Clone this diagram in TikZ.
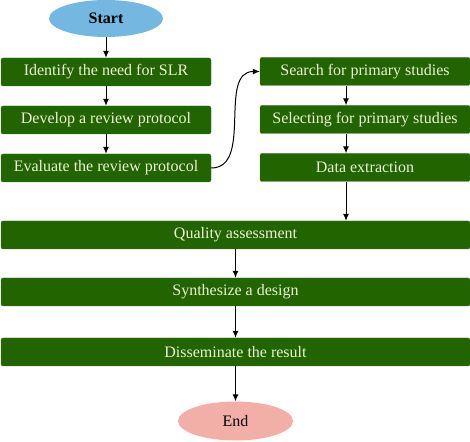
\documentclass[tikz,border=0pt]{standalone}
\usepackage{fontspec}
\setmainfont{Liberation Serif}
\usetikzlibrary{arrows.meta,positioning,shapes.geometric}
\definecolor{boxgreen}{RGB}{33,100,0}
\definecolor{boxtext}{RGB}{236,243,216}
\definecolor{startblue}{RGB}{116,184,226}
\definecolor{endpink}{RGB}{242,175,168}

\begin{document}
\begin{tikzpicture}[
	x=1pt, y=1pt,
  > = {Latex[length=7pt,width=6pt]},
  stepbox/.style = {draw=boxgreen!85!white, fill=boxgreen, rounded corners=2pt, minimum height=28pt, inner sep=0pt, text=boxtext, font=\fontsize{16}{18}\selectfont},
  term/.style = {ellipse, inner sep=0pt, font=\fontsize{16}{18}\selectfont},
  flow/.style = {->, line width=1pt}
  ]
	\useasboundingbox (0,0) rectangle (470,441);

	% left column
	\node[term, fill=startblue, minimum width=114pt, minimum height=37pt, font=\fontsize{16}{18}\selectfont\bfseries] (start) at (106,422.5) {Start};
	\node[stepbox, minimum width=210pt] (need) at (106,369) {Identify the need for SLR};
	\node[stepbox, minimum width=210pt] (develop) at (106,321) {Develop a review protocol};
	\node[stepbox, minimum width=210pt] (evaluate) at (106,273) {Evaluate the review protocol};

	% right column
	\node[stepbox, minimum width=210pt] (search) at (365,369.5) {Search for primary studies};
	\node[stepbox, minimum width=210pt] (select) at (365,321.5) {Selecting for primary studies};
	\node[stepbox, minimum width=210pt] (extract) at (365,273.5) {Data extraction};

	% full width
	\node[stepbox, minimum width=469pt] (quality) at (235.5,206) {Quality assessment};
	\node[stepbox, minimum width=469pt] (synth) at (235.5,149) {Synthesize a design};
	\node[stepbox, minimum width=469pt] (dissem) at (235.5,89) {Disseminate the result};
	\node[term, fill=endpink, minimum width=115pt, minimum height=39pt] (end) at (235.5,20) {End};

	\draw[flow] (start) -- (need);
	\draw[flow] (need) -- (develop);
	\draw[flow] (develop) -- (evaluate);
	\draw[flow] (evaluate.east) to[out=0, in=180] (search.west);

	\draw[flow] ([xshift=-19pt]search.south) -- ([xshift=-19pt]select.north);
	\draw[flow] ([xshift=-19pt]select.south) -- ([xshift=-19pt]extract.north);
	\draw[flow] ([xshift=-19pt]extract.south) -- ([xshift=-19pt]extract.south |- quality.north);

	\draw[flow] (quality) -- (synth);
	\draw[flow] (synth) -- (dissem);
	\draw[flow] (dissem) -- (end);

\end{tikzpicture}
\end{document}
